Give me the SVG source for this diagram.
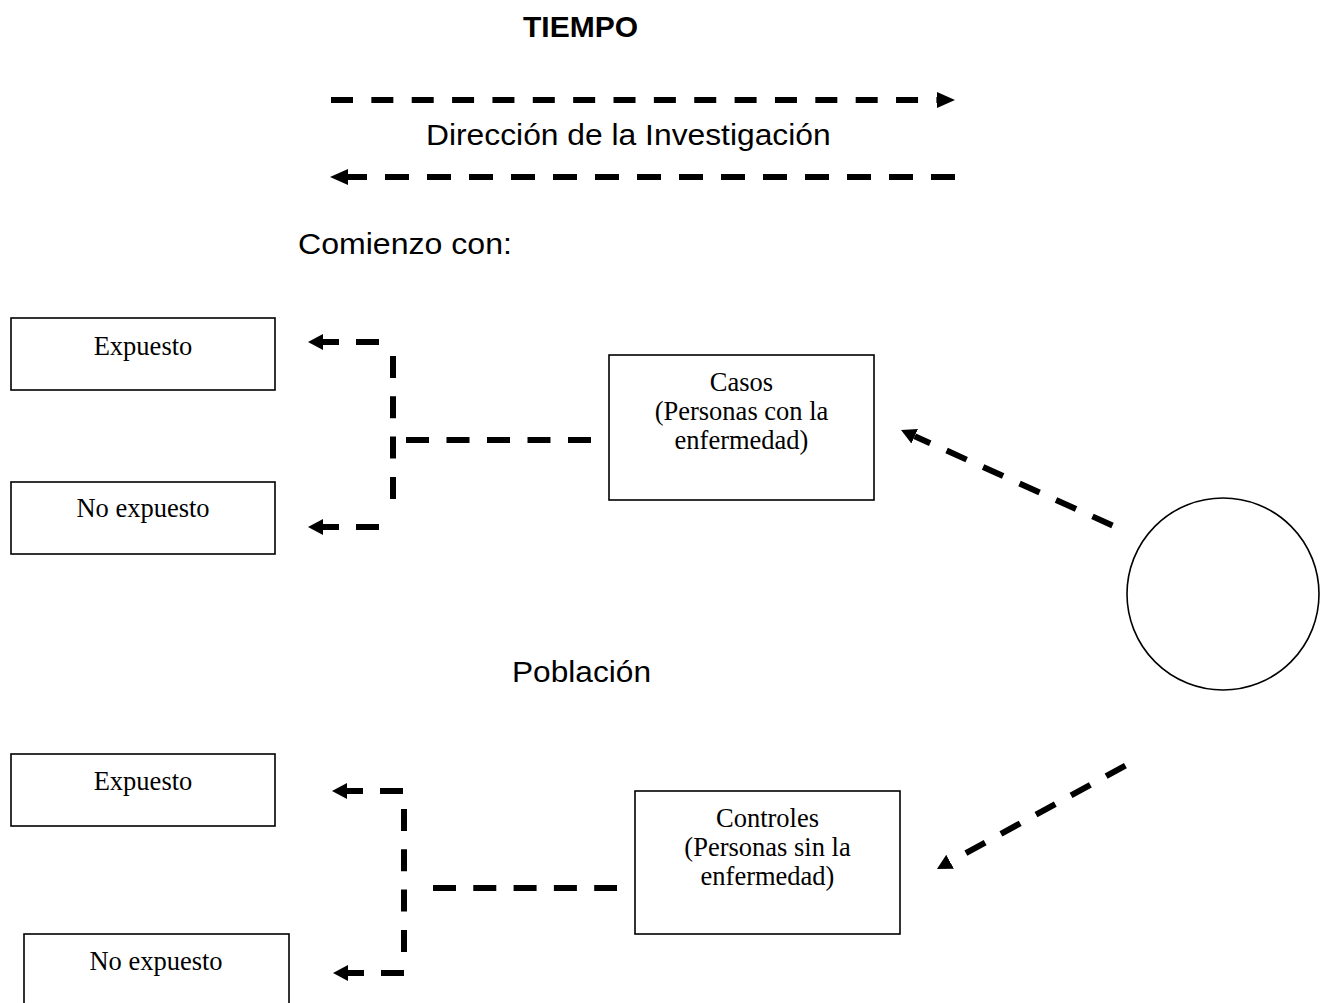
<svg xmlns="http://www.w3.org/2000/svg" width="1326" height="1003" viewBox="0 0 1326 1003">
<style>
.sans{font-family:"Liberation Sans",Arial,sans-serif;fill:#000;font-size:30px}
.serif{font-family:"Liberation Serif","Times New Roman",serif;font-size:26.5px;fill:#000;text-anchor:middle}
.box{fill:#fff;stroke:#000;stroke-width:1.6}
.dash{fill:none;stroke:#000;stroke-width:6;stroke-dasharray:22 18}
</style>
<defs>
<marker id="ah" markerUnits="userSpaceOnUse" viewBox="0 0 18 16" refX="0" refY="8" markerWidth="18" markerHeight="16" orient="auto-start-reverse">
<path d="M0,0 L18,8 L0,16 z" fill="#000"/>
</marker>
<marker id="as" markerUnits="userSpaceOnUse" viewBox="0 0 15 16" refX="0" refY="8" markerWidth="15" markerHeight="16" orient="auto-start-reverse">
<path d="M0,0 L15,8 L0,16 z" fill="#000"/>
</marker>
</defs>
<rect width="1326" height="1003" fill="#fff"/>
<text class="sans" transform="translate(523,37)" font-size="29.5" font-weight="bold">TIEMPO</text>
<text class="sans" transform="translate(426,145) scale(1.06,1)">Dirección de la Investigación</text>
<text class="sans" transform="translate(298,254) scale(1.07,1)">Comienzo con:</text>
<text class="sans" transform="translate(512,682) scale(1.055,1)">Población</text>
<g id="expuesto1"><rect class="box" x="11" y="318" width="264" height="72"/><text class="serif" x="143" y="355">Expuesto</text></g>
<g id="noexpuesto1"><rect class="box" x="11" y="482" width="264" height="72"/><text class="serif" x="143" y="517">No expuesto</text></g>
<g id="casos"><rect class="box" x="609" y="355" width="265" height="145"/><text class="serif" x="741.5" y="391">Casos</text><text class="serif" x="741.5" y="420">(Personas con la</text><text class="serif" x="741.5" y="449">enfermedad)</text></g>
<g id="poblacion"><circle cx="1223" cy="594" r="96" fill="#fff" stroke="#000" stroke-width="1.6"/></g>
<g id="expuesto2"><rect class="box" x="11" y="754" width="264" height="72"/><text class="serif" x="143" y="790">Expuesto</text></g>
<g id="noexpuesto2"><rect class="box" x="24" y="934" width="265" height="80"/><text class="serif" x="156" y="970">No expuesto</text></g>
<g id="controles"><rect class="box" x="635" y="791" width="265" height="143"/><text class="serif" x="767.5" y="827">Controles</text><text class="serif" x="767.5" y="856">(Personas sin la</text><text class="serif" x="767.5" y="885">enfermedad)</text></g>
<g id="connectors">
<path class="dash" d="M331,100 L937,100" style="stroke-dasharray:22 18.36" marker-end="url(#ah)"/>
<path class="dash" d="M348,177 L955,177" style="stroke-dasharray:24 18;stroke-dashoffset:5" marker-start="url(#ah)"/>
<path class="dash" d="M323,342 L379,342" style="stroke-dasharray:23 17;stroke-dashoffset:7" marker-start="url(#as)"/>
<path class="dash" d="M393,356 L393,499" style="stroke-dasharray:22 18.3"/>
<path class="dash" d="M406,440 L591,440" style="stroke-dasharray:23 17.5"/>
<path class="dash" d="M323,527 L379,527" style="stroke-dasharray:23 17;stroke-dashoffset:7" marker-start="url(#as)"/>
<path class="dash" d="M914.7,436.2 L1116,527" style="stroke-dashoffset:5" marker-start="url(#as)"/>
<path class="dash" d="M950.1,861.8 L1130,763" style="stroke-dashoffset:22" marker-start="url(#as)"/>
<path class="dash" d="M347,791 L403,791" style="stroke-dasharray:23 17;stroke-dashoffset:7" marker-start="url(#as)"/>
<path class="dash" d="M404,809 L404,953" style="stroke-dasharray:22 18.3"/>
<path class="dash" d="M433,888 L617,888" style="stroke-dasharray:23 17.3"/>
<path class="dash" d="M348,973 L405,973" style="stroke-dasharray:23 17;stroke-dashoffset:7" marker-start="url(#as)"/>
</g>
</svg>
